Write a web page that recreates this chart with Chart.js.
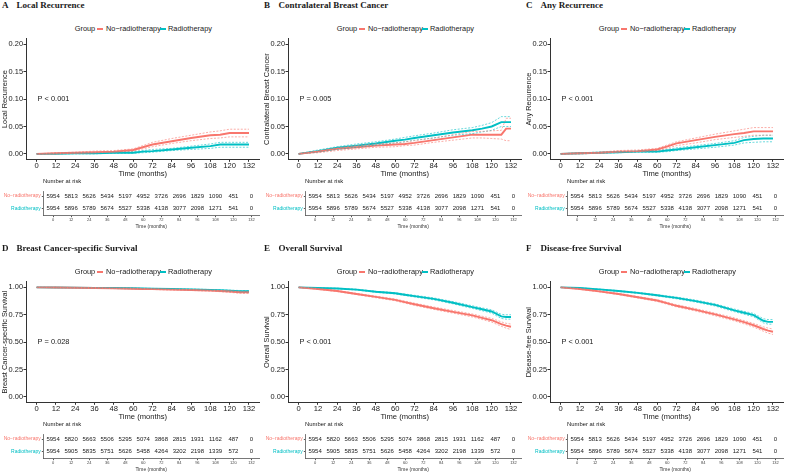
<!DOCTYPE html>
<html>
<head>
<meta charset="utf-8">
<script src="https://cdn.jsdelivr.net/npm/chart.js@4.4.1/dist/chart.umd.min.js"></script>
<style>
  body { margin: 0; width: 785px; height: 473px; background: #fff; position: relative; overflow: hidden; font-family: "Liberation Sans", Arial, sans-serif; color: #1a1a1a; }
  .panel { position: absolute; width: 262px; height: 232px; }
  .panel canvas { position: absolute; left: 0; }
  .tag, .ttl { position: absolute; top: 0; font: bold 9px "Liberation Serif", "Times New Roman", serif; white-space: nowrap; line-height: 11px; }
  .tag { left: 2px; }
  .ttl { left: 16.5px; }
  .lg { position: absolute; top: 25px; font-size: 7.4px; line-height: 8px; white-space: nowrap; }
  .key { position: absolute; top: 28px; width: 6px; height: 0; border-top: 2px solid; }
  .nar { position: absolute; left: 43px; top: 178px; font-size: 5.9px; line-height: 7px; white-space: nowrap; }
</style>
</head>
<body>
<script>
// colours of the two groups (ggplot defaults)
const red = '#F8766D';
const teal = '#00BFC4';

// time grid of the curves (months)
const months = [0, 12, 24, 36, 48, 60, 66, 72, 84, 96, 108, 114, 120, 126, 129, 132];
const xTicks = [0, 12, 24, 36, 48, 60, 72, 84, 96, 108, 120, 132];

// A  Local Recurrence
const aNo = [0, 0.001, 0.002, 0.003, 0.004, 0.007, 0.012, 0.017, 0.023, 0.029, 0.034, 0.035, 0.038, 0.038, 0.038, 0.038];
const aNoLo = [0, 0, 0.001, 0.002, 0.003, 0.005, 0.009, 0.013, 0.019, 0.024, 0.028, 0.029, 0.031, 0.031, 0.031, 0.031];
const aNoHi = [0, 0.002, 0.003, 0.005, 0.006, 0.009, 0.015, 0.021, 0.028, 0.034, 0.040, 0.042, 0.045, 0.045, 0.045, 0.045];
const aRt = [0, 0, 0.001, 0.001, 0.002, 0.002, 0.004, 0.005, 0.008, 0.011, 0.014, 0.017, 0.017, 0.017, 0.017, 0.017];
const aRtLo = [0, 0, 0, 0, 0.001, 0.001, 0.002, 0.003, 0.006, 0.008, 0.010, 0.012, 0.012, 0.012, 0.012, 0.012];
const aRtHi = [0, 0.001, 0.002, 0.002, 0.003, 0.004, 0.006, 0.008, 0.010, 0.014, 0.018, 0.021, 0.021, 0.021, 0.021, 0.021];

// B  Contralateral Breast Cancer
const bNo = [0, 0.004, 0.009, 0.012, 0.015, 0.017, 0.018, 0.020, 0.025, 0.030, 0.035, 0.035, 0.035, 0.035, 0.046, 0.046];
const bNoLo = [0, 0.002, 0.006, 0.009, 0.012, 0.013, 0.015, 0.016, 0.021, 0.025, 0.029, 0.029, 0.028, 0.027, 0.024, 0.024];
const bNoHi = [0, 0.005, 0.011, 0.015, 0.018, 0.020, 0.022, 0.024, 0.029, 0.035, 0.041, 0.041, 0.042, 0.043, 0.065, 0.065];
const bRt = [0, 0.005, 0.011, 0.015, 0.019, 0.024, 0.026, 0.029, 0.034, 0.039, 0.043, 0.046, 0.050, 0.058, 0.058, 0.058];
const bRtLo = [0, 0.003, 0.008, 0.012, 0.016, 0.020, 0.022, 0.025, 0.029, 0.034, 0.037, 0.040, 0.043, 0.050, 0.050, 0.050];
const bRtHi = [0, 0.007, 0.013, 0.018, 0.022, 0.027, 0.030, 0.033, 0.038, 0.044, 0.048, 0.052, 0.057, 0.068, 0.068, 0.068];

// C  Any Recurrence
const cNo = [0, 0.001, 0.002, 0.004, 0.005, 0.008, 0.013, 0.019, 0.025, 0.031, 0.036, 0.038, 0.041, 0.041, 0.041, 0.041];
const cNoLo = [0, 0, 0.001, 0.003, 0.004, 0.006, 0.010, 0.015, 0.020, 0.026, 0.030, 0.032, 0.034, 0.034, 0.034, 0.034];
const cNoHi = [0, 0.002, 0.003, 0.006, 0.007, 0.010, 0.016, 0.022, 0.029, 0.036, 0.042, 0.045, 0.048, 0.048, 0.048, 0.048];
const cRt = [0, 0.001, 0.002, 0.003, 0.004, 0.004, 0.006, 0.008, 0.012, 0.016, 0.020, 0.025, 0.027, 0.028, 0.028, 0.028];
const cRtLo = [0, 0, 0.001, 0.002, 0.003, 0.003, 0.004, 0.006, 0.009, 0.012, 0.016, 0.020, 0.021, 0.022, 0.022, 0.022];
const cRtHi = [0, 0.002, 0.003, 0.004, 0.005, 0.006, 0.008, 0.011, 0.015, 0.019, 0.024, 0.030, 0.032, 0.034, 0.034, 0.034];

// D  Breast Cancer-specific Survival
const dNo = [1, 0.999, 0.997, 0.994, 0.991, 0.988, 0.986, 0.984, 0.980, 0.976, 0.971, 0.967, 0.962, 0.956, 0.955, 0.955];
const dNoLo = [1, 0.998, 0.996, 0.992, 0.989, 0.985, 0.983, 0.981, 0.976, 0.972, 0.966, 0.961, 0.955, 0.947, 0.945, 0.945];
const dNoHi = [1, 1, 0.998, 0.996, 0.993, 0.990, 0.989, 0.987, 0.983, 0.980, 0.975, 0.972, 0.968, 0.964, 0.963, 0.963];
const dRt = [1, 0.999, 0.998, 0.996, 0.994, 0.992, 0.990, 0.989, 0.986, 0.982, 0.977, 0.974, 0.970, 0.966, 0.965, 0.965];
const dRtLo = [1, 0.998, 0.997, 0.995, 0.992, 0.990, 0.988, 0.987, 0.983, 0.978, 0.973, 0.969, 0.964, 0.959, 0.958, 0.958];
const dRtHi = [1, 1, 0.999, 0.997, 0.996, 0.994, 0.992, 0.991, 0.989, 0.985, 0.981, 0.979, 0.975, 0.972, 0.971, 0.971];

// E  Overall Survival
const eNo = [1, 0.985, 0.967, 0.940, 0.913, 0.886, 0.866, 0.846, 0.810, 0.777, 0.744, 0.722, 0.700, 0.665, 0.650, 0.640];
const eNoLo = [1, 0.982, 0.962, 0.934, 0.906, 0.878, 0.857, 0.836, 0.799, 0.765, 0.730, 0.707, 0.683, 0.645, 0.628, 0.615];
const eNoHi = [1, 0.988, 0.972, 0.946, 0.920, 0.894, 0.875, 0.856, 0.821, 0.789, 0.757, 0.737, 0.717, 0.685, 0.672, 0.665];
const eRt = [1, 0.994, 0.990, 0.980, 0.960, 0.946, 0.933, 0.920, 0.895, 0.860, 0.820, 0.800, 0.780, 0.735, 0.730, 0.730];
const eRtLo = [1, 0.992, 0.987, 0.976, 0.955, 0.940, 0.926, 0.912, 0.886, 0.850, 0.808, 0.787, 0.765, 0.716, 0.710, 0.710];
const eRtHi = [1, 0.996, 0.993, 0.984, 0.965, 0.952, 0.940, 0.928, 0.904, 0.870, 0.832, 0.813, 0.795, 0.754, 0.750, 0.750];

// F  Disease-free Survival
const fNo = [1, 0.985, 0.964, 0.940, 0.910, 0.880, 0.856, 0.832, 0.795, 0.753, 0.708, 0.682, 0.654, 0.620, 0.605, 0.595];
const fNoLo = [1, 0.982, 0.959, 0.934, 0.903, 0.872, 0.847, 0.822, 0.784, 0.741, 0.694, 0.667, 0.637, 0.600, 0.582, 0.570];
const fNoHi = [1, 0.988, 0.969, 0.946, 0.917, 0.888, 0.865, 0.842, 0.806, 0.765, 0.722, 0.697, 0.671, 0.640, 0.628, 0.620];
const fRt = [1, 0.994, 0.982, 0.967, 0.950, 0.928, 0.916, 0.904, 0.875, 0.840, 0.790, 0.768, 0.747, 0.695, 0.685, 0.685];
const fRtLo = [1, 0.992, 0.979, 0.963, 0.945, 0.922, 0.909, 0.896, 0.866, 0.830, 0.778, 0.755, 0.732, 0.676, 0.664, 0.664];
const fRtHi = [1, 0.996, 0.985, 0.971, 0.955, 0.934, 0.923, 0.912, 0.884, 0.850, 0.802, 0.781, 0.762, 0.714, 0.706, 0.706];

// number at risk tables
const riskMonths = [0, 12, 24, 36, 48, 60, 72, 84, 96, 108, 120, 132];
const riskNo1 = [5954, 5813, 5626, 5434, 5197, 4952, 3726, 2696, 1829, 1090, 451, 0];
const riskRt1 = [5954, 5896, 5789, 5674, 5527, 5338, 4138, 3077, 2098, 1271, 541, 0];
const riskNo2 = [5954, 5820, 5663, 5506, 5295, 5074, 3868, 2815, 1931, 1162, 487, 0];
const riskRt2 = [5954, 5905, 5835, 5751, 5626, 5458, 4264, 3202, 2198, 1339, 572, 0];

const incTicks = [0, 0.05, 0.10, 0.15, 0.20];
const survTicks = [0, 0.25, 0.50, 0.75, 1.00];

const panels = [
  { tag: 'A', title: 'Local Recurrence', ylab: 'Local Recurrence', p: 'P < 0.001', left: 0, top: 0, surv: false,
    no: [aNo, aNoLo, aNoHi], rt: [aRt, aRtLo, aRtHi], riskNo: riskNo1, riskRt: riskRt1 },
  { tag: 'B', title: 'Contralateral Breast Cancer', ylab: 'Contralateral Breast Cancer', p: 'P = 0.005', left: 262, top: 0, surv: false,
    no: [bNo, bNoLo, bNoHi], rt: [bRt, bRtLo, bRtHi], riskNo: riskNo1, riskRt: riskRt1 },
  { tag: 'C', title: 'Any Recurrence', ylab: 'Any Recurrence', p: 'P < 0.001', left: 524, top: 0, surv: false,
    no: [cNo, cNoLo, cNoHi], rt: [cRt, cRtLo, cRtHi], riskNo: riskNo1, riskRt: riskRt1 },
  { tag: 'D', title: 'Breast Cancer-specific Survival', ylab: 'Breast Cancer-specific Survival', p: 'P = 0.028', left: 0, top: 243, surv: true,
    no: [dNo, dNoLo, dNoHi], rt: [dRt, dRtLo, dRtHi], riskNo: riskNo2, riskRt: riskRt2 },
  { tag: 'E', title: 'Overall Survival', ylab: 'Overall Survival', p: 'P < 0.001', left: 262, top: 243, surv: true,
    no: [eNo, eNoLo, eNoHi], rt: [eRt, eRtLo, eRtHi], riskNo: riskNo2, riskRt: riskRt2 },
  { tag: 'F', title: 'Disease-free Survival', ylab: 'Disease-free Survival', p: 'P < 0.001', left: 524, top: 243, surv: true,
    no: [fNo, fNoLo, fNoHi], rt: [fRt, fRtLo, fRtHi], riskNo: riskNo1, riskRt: riskRt1 }
];

const font = '"Liberation Sans", Arial, sans-serif';

/** p-value text, placed in data coordinates */
const pLabel = {
  id: 'pLabel',
  afterDatasetsDraw(chart, args, opts) {
    const ctx = chart.ctx;
    ctx.save();
    ctx.font = '7.4px ' + font;
    ctx.fillStyle = '#1a1a1a';
    ctx.textBaseline = 'middle';
    ctx.fillText(opts.text, chart.scales.x.getPixelForValue(0) + 1, chart.scales.y.getPixelForValue(opts.y));
    ctx.restore();
  }
};

/** numbers of the risk table, drawn at each point of the scatter datasets */
const riskNumbers = {
  id: 'riskNumbers',
  afterDatasetsDraw(chart) {
    const ctx = chart.ctx;
    ctx.save();
    ctx.font = '6px ' + font;
    ctx.fillStyle = '#1a1a1a';
    ctx.textAlign = 'center';
    ctx.textBaseline = 'middle';
    chart.data.datasets.forEach((ds, d) => {
      chart.getDatasetMeta(d).data.forEach((pt, i) => ctx.fillText(String(ds.counts[i]), pt.x, pt.y));
    });
    ctx.restore();
  }
};

function points(xs, ys) {
  return xs.map((x, i) => ({ x: x, y: ys[i] }));
}

function curve(vals, color, dashed) {
  return {
    data: points(months, vals),
    borderColor: color,
    borderWidth: dashed ? 0.6 : 1.9,
    borderDash: dashed ? [2, 1.5] : [],
    pointRadius: 0,
    tension: 0,
    fill: false
  };
}

function el(parent, tag, cls, text, style) {
  const e = document.createElement(tag);
  if (cls) e.className = cls;
  if (text) e.textContent = text;
  Object.assign(e.style, style || {});
  parent.appendChild(e);
  return e;
}

function addPanel(p) {
  const div = el(document.body, 'div', 'panel', null, { left: p.left + 'px', top: p.top + 'px' });
  el(div, 'div', 'tag', p.tag);
  el(div, 'div', 'ttl', p.title);

  // legend
  el(div, 'div', 'lg', 'Group', { left: '74.7px' });
  el(div, 'div', 'key', null, { left: '97px', borderTopColor: red });
  el(div, 'div', 'lg', 'No\u2212radiotherapy', { left: '106px' });
  el(div, 'div', 'key', null, { left: '160px', borderTopColor: teal });
  el(div, 'div', 'lg', 'Radiotherapy', { left: '168px' });

  // survival / incidence curves
  const km = el(div, 'canvas', null, null, { top: '34px' });
  km.width = 262; km.height = 145;
  const yTicks = p.surv ? survTicks : incTicks;
  const yMax = p.surv ? 1 : 0.2;
  new Chart(km, {
    type: 'line',
    data: {
      datasets: [
        curve(p.no[1], red, true), curve(p.no[2], red, true),
        curve(p.rt[1], teal, true), curve(p.rt[2], teal, true),
        curve(p.no[0], red, false), curve(p.rt[0], teal, false)
      ]
    },
    plugins: [pLabel],
    options: {
      responsive: false,
      animation: false,
      layout: { padding: { top: 4.5, right: 2.4, left: 0, bottom: 0 } },
      plugins: {
        legend: { display: false },
        tooltip: { enabled: false },
        pLabel: { text: p.p, y: yMax / 2 }
      },
      scales: {
        x: {
          type: 'linear', min: -6.6, max: 138.6,
          afterBuildTicks: s => { s.ticks = xTicks.map(v => ({ value: v })); },
          afterFit: s => { s.height = 19.7; },
          grid: { drawOnChartArea: false, tickLength: 2.5, color: '#333' },
          border: { color: '#333', width: 1 },
          ticks: { font: { family: font, size: 7.6, lineHeight: 1 }, color: '#1a1a1a', padding: 0.5, maxRotation: 0, autoSkip: false },
          title: { display: true, text: 'Time (months)', color: '#1a1a1a', font: { family: font, size: 7.6, lineHeight: 1 }, padding: { top: 0, bottom: 1 } }
        },
        y: {
          type: 'linear', min: -yMax * 0.05, max: yMax * 1.05,
          afterBuildTicks: s => { s.ticks = yTicks.map(v => ({ value: v })); },
          afterFit: s => { s.width = 26; },
          grid: { drawOnChartArea: false, tickLength: 2.5, color: '#333' },
          border: { color: '#333', width: 1 },
          ticks: { font: { family: font, size: 7.4 }, color: '#1a1a1a', padding: 0.5, callback: v => v.toFixed(2) },
          title: { display: true, text: p.ylab, color: '#1a1a1a', font: { family: font, size: 7.4, lineHeight: 1 }, padding: { top: 1.5, bottom: 0 } }
        }
      }
    }
  });

  // number at risk table
  el(div, 'div', 'nar', 'Number at risk');
  const rt = el(div, 'canvas', null, null, { top: '187px' });
  rt.width = 262; rt.height = 43;
  new Chart(rt, {
    type: 'scatter',
    data: {
      datasets: [
        { data: riskMonths.map(m => ({ x: m, y: 2 })), counts: p.riskNo, pointRadius: 0 },
        { data: riskMonths.map(m => ({ x: m, y: 1 })), counts: p.riskRt, pointRadius: 0 }
      ]
    },
    plugins: [riskNumbers],
    options: {
      responsive: false,
      animation: false,
      layout: { padding: { top: 2.9, right: 3, left: 0, bottom: 0 } },
      plugins: { legend: { display: false }, tooltip: { enabled: false } },
      scales: {
        x: {
          type: 'linear', min: -6.5, max: 137,
          afterBuildTicks: s => { s.ticks = riskMonths.map(v => ({ value: v })); },
          afterFit: s => { s.height = 14.3; },
          grid: { drawOnChartArea: false, tickLength: 1.5, color: '#555' },
          border: { color: '#555', width: 0.8 },
          ticks: { font: { family: font, size: 4, lineHeight: 1 }, color: '#444', padding: 1, maxRotation: 0, autoSkip: false },
          title: { display: true, text: 'Time (months)', color: '#333', font: { family: font, size: 4.9, lineHeight: 1 }, padding: { top: 0, bottom: 1 } }
        },
        y: {
          type: 'linear', min: 0.45, max: 2.4,
          afterBuildTicks: s => { s.ticks = [{ value: 1 }, { value: 2 }]; },
          afterFit: s => { s.width = 43.3; },
          grid: { drawOnChartArea: false, tickLength: 1.5, color: '#555' },
          border: { color: '#555', width: 0.8 },
          ticks: {
            font: { family: font, size: 5 }, padding: 1,
            color: ctx => (ctx.tick.value === 2 ? red : teal),
            callback: v => (v === 2 ? 'No\u2212radiotherapy' : 'Radiotherapy')
          }
        }
      }
    }
  });
}

panels.forEach(addPanel);
</script>
</body>
</html>
